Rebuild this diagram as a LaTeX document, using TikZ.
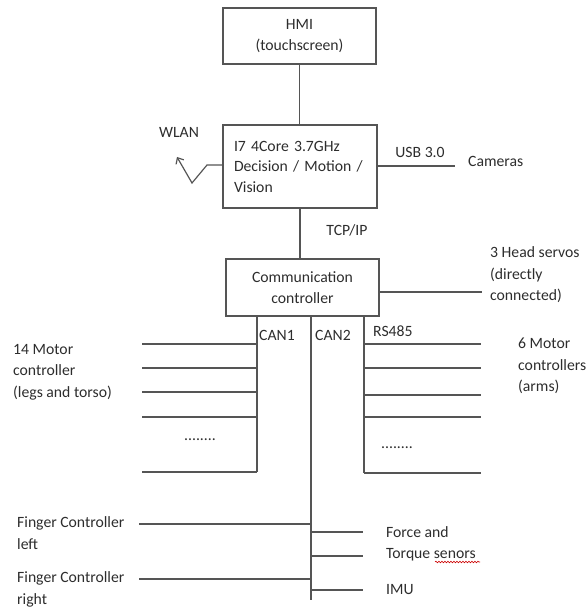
\documentclass[tikz,border=0pt]{standalone}
\usepackage{fontspec}
\setmainfont{Carlito}
\usetikzlibrary{arrows.meta,decorations.pathmorphing}

\definecolor{linegray}{RGB}{85,85,85}
\definecolor{textgray}{RGB}{45,45,45}

\begin{document}
\begin{tikzpicture}[x=1pt, y=-1pt, font=\fontsize{15.7}{21.5}\selectfont, text=textgray]
        \useasboundingbox (0,0) rectangle (587,609);

        \begin{scope}[every node/.style={draw=linegray, line width=1.2pt, align=center, inner sep=0pt, minimum width=153pt, minimum height=56pt}]
            \node (hmi) at (299.5, 36) {HMI\\(touchscreen)};
            \node (cpu) at (300, 166.5) [minimum width=154pt, minimum height=83pt, align=left, text width=132pt,
                font=\fontsize{15.7}{20.5}\selectfont] {I7 4Core 3.7GHz\\Decision / Motion /\\Vision\\[-11pt]{}};
            \node (comm) at (302.5, 287.5) [minimum height=57pt] {Communication\\controller};
        \end{scope}

        \begin{scope}[every node/.style={inner sep=0pt, align=left}]
            \node (wlan) at (179, 132) {WLAN};
            \node (usb) at (420, 152) {USB 3.0};
            \node[anchor=west] (cameras) at (468, 161) {Cameras};
            \node (tcpip) at (347, 230) {TCP/IP};
            \node[anchor=west] (head) at (490, 275) {3 Head servos\\(directly\\connected)};
            \node[anchor=west] (can1lbl) at (259, 335) {CAN1};
            \node (can2lbl) at (333, 335) {CAN2};
            \node[anchor=west] (rs485lbl) at (373, 331) {RS485};
            \node[anchor=west] (legs) at (13, 372) {14 Motor\\controller\\(legs and torso)};
            \node[anchor=west] (arms) at (518, 366) {6 Motor\\controllers\\(arms)};
            \node (dotsleft) at (200, 440) {........};
            \node (dotsright) at (397, 448) {........};
            \node[anchor=west] (fingerl) at (17, 533) {Finger Controller\\left};
            \node[anchor=west] (fingerr) at (17, 589.5) {Finger Controller\\right};
            \node[anchor=west] (force) at (386, 532) {Force and};
            \node[anchor=west] (torque) at (386, 555) {Torque senors};
            \node[anchor=west] (imu) at (386, 590) {IMU};
        \end{scope}

        % bus ends
        \coordinate (can1) at (257, 472);
        \coordinate (can2) at (311, 600);
        \coordinate (rs485) at (364, 473);
        \coordinate (camend) at (455, 166);
        \coordinate (headend) at (482, 292);
        \coordinate (knee1) at (207, 165);
        \coordinate (knee2) at (192, 183);
        \coordinate (tip) at (177, 157);

        \begin{scope}[
            every edge/.style={draw=linegray, line width=1.2pt}]
            \path [-] (hmi.south) edge (hmi.south |- cpu.north);
            \path [-] (cpu.south) edge (cpu.south |- comm.north);
            \path [-] (cpu.east |- camend) edge (camend);
            \path [-] (comm.east |- headend) edge (headend);
            \path [-] (comm.south -| can1) edge (can1);
            \path [-] (comm.south -| can2) edge (can2);
            \path [-] (comm.south -| rs485) edge (rs485);

            \foreach \y [count=\i] in {344, 368, 392, 417, 472} {
                \coordinate (left\i) at (142, \y);
                \path [-] (left\i) edge (left\i -| can1);
            }
            \foreach \y [count=\i] in {344, 368, 395, 417, 473} {
                \coordinate (right\i) at (481, \y);
                \path [-] (right\i -| rs485) edge (right\i);
            }
            \foreach \y [count=\i] in {524, 579} {
                \coordinate (finger\i) at (139, \y);
                \path [-] (finger\i) edge (finger\i -| can2);
            }
            \foreach \y [count=\i] in {532, 556, 590} {
                \coordinate (sensor\i) at (363, \y);
                \path [-] (sensor\i -| can2) edge (sensor\i);
            }
        \end{scope}

        \draw [draw=linegray, line width=1.2pt, -{Straight Barb[length=5pt, width=9pt]}]
            (cpu.west |- knee1) -- (knee1) -- (knee2) -- (tip);

        \draw [red!80!black, line width=0.6pt, decorate,
            decoration={snake, amplitude=0.8pt, segment length=3pt}]
            (435, 562) -- (480, 562);
\end{tikzpicture}
\end{document}
